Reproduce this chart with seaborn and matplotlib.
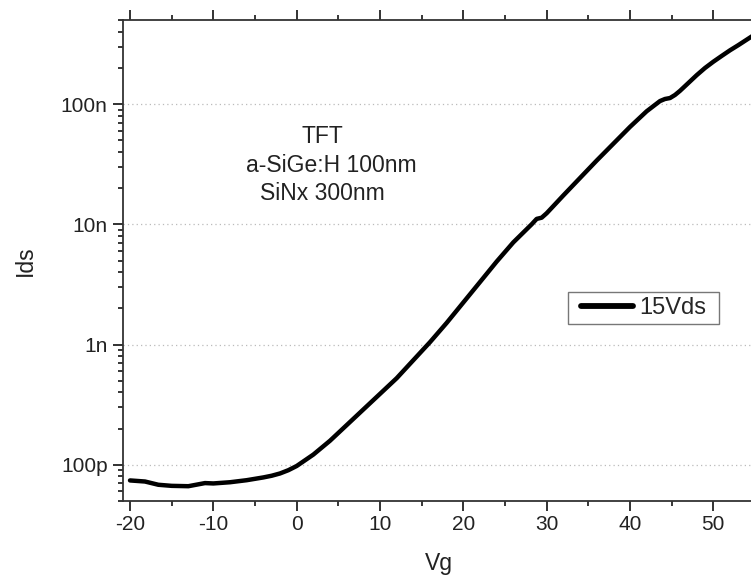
import matplotlib
matplotlib.use("Agg")
import matplotlib.pyplot as plt
import matplotlib.ticker as mticker
from matplotlib.path import Path
import seaborn as sns
import pandas as pd

vg = [-20, -18.2, -16.6, -15, -13, -12, -11, -10, -8, -6, -4, -3, -2, -1, 0,
      2, 4, 6, 8, 10, 12, 14, 16, 18, 20, 22, 24, 26, 28.2, 28.8, 29.4, 30,
      32, 34, 36, 38, 40, 42, 43.6, 44.2, 44.8, 45.4, 46, 47, 48, 49, 50, 51,
      52, 53, 54, 55]
ids = [7.413e-11, 7.261e-11, 6.823e-11, 6.683e-11, 6.637e-11, 6.839e-11,
       7.047e-11, 6.998e-11, 7.161e-11, 7.447e-11, 7.852e-11, 8.110e-11,
       8.472e-11, 9.016e-11, 9.772e-11,
       1.216e-10, 1.585e-10, 2.138e-10, 2.884e-10, 3.890e-10, 5.248e-10,
       7.413e-10, 1.047e-9, 1.514e-9, 2.239e-9, 3.311e-9, 4.898e-9, 7.079e-9,
       1.000e-8, 1.109e-8, 1.135e-8, 1.236e-8, 1.738e-8, 2.427e-8, 3.388e-8,
       4.677e-8, 6.457e-8, 8.710e-8, 1.059e-7, 1.102e-7, 1.122e-7, 1.190e-7,
       1.288e-7, 1.496e-7, 1.738e-7, 1.995e-7, 2.249e-7, 2.512e-7, 2.799e-7,
       3.090e-7, 3.428e-7, 3.802e-7]
series_label = "15Vds"
y_ticks = [1e-10, 1e-9, 1e-8, 1e-7]
y_tick_labels = ["100p", "1n", "10n", "100n"]
x_ticks = [-20, -10, 0, 10, 20, 30, 40, 50]
annotation_lines = ["TFT", "a-SiGe:H 100nm", "SiNx 300nm"]

sns.set_style("ticks")
plt.rcParams["font.family"] = ["Liberation Sans", "DejaVu Sans"]
plt.rcParams["axes.unicode_minus"] = False

W, H = 751, 576
fig = plt.figure(figsize=(W / 100, H / 100), dpi=100)
left, right, top, bottom = 123, 755, 20, 501
ax = fig.add_axes([left / W, (H - bottom) / H, (right - left) / W, (bottom - top) / H])

df = pd.DataFrame({"Vg": vg, "Ids": ids})
sns.lineplot(data=df, x="Vg", y="Ids", ax=ax, color="black", linewidth=3.2,
             label=series_label, sort=False)

ax.set_yscale("log")
ax.set_xlim(-20.84, 55)
ax.set_ylim(5.0e-11, 5.0e-7)

ax.set_yticks(y_ticks)
ax.set_yticklabels(y_tick_labels)
ax.yaxis.set_minor_locator(mticker.LogLocator(base=10, subs=range(2, 10), numticks=20))
ax.yaxis.set_minor_formatter(mticker.NullFormatter())
ax.set_xticks(x_ticks)
ax.xaxis.set_minor_locator(mticker.MultipleLocator(5))

ax.tick_params(axis="both", which="major", direction="out", length=7.5, width=1.3,
               labelsize=15, colors="#222222", top=True, labeltop=False)
ax.tick_params(axis="both", which="minor", direction="out", length=3.8, width=1.3,
               top=True)
ax.tick_params(axis="y", which="major", pad=3.5)
ax.tick_params(axis="x", which="major", pad=2.5)

for s in ["left", "bottom", "top", "right"]:
    ax.spines[s].set_linewidth(1.3)
    ax.spines[s].set_color("#333333")

ax.yaxis.grid(True, which="major", linestyle=(0, (1, 2.5)), color="#bbbbbb", linewidth=0.9)
ax.xaxis.grid(False)

ax.set_xlabel("Vg", fontsize=16.5, labelpad=13, color="#222222")
ax.set_ylabel("Ids", fontsize=16.5, labelpad=17, color="#222222")

text_pos = [(0.315, 0.744), (0.329, 0.684), (0.316, 0.626)]
for (tx, ty), line in zip(text_pos, annotation_lines):
    ax.text(tx, ty, line, transform=ax.transAxes, ha="center", va="baseline",
            fontsize=16.5, color="#222222")

PADX = 0.34


def wide_box(x0, y0, width, height, mutation_size):
    padx = PADX * mutation_size
    xs = [x0 - padx, x0 + width + padx, x0 + width + padx, x0 - padx, x0 - padx]
    ys = [y0, y0, y0 + height, y0 + height, y0]
    return Path(list(zip(xs, ys)), closed=True)


fs = 17
leg = ax.legend(loc="upper left",
                bbox_to_anchor=((568 + PADX * fs * 100 / 72) / W, 1 - 292 / H),
                bbox_transform=fig.transFigure, borderaxespad=0, fontsize=fs,
                frameon=True, fancybox=False, handlelength=2.2, handletextpad=0.25,
                borderpad=0.22, labelspacing=0.2)
frame = leg.get_frame()
frame.set_boxstyle(wide_box)
frame.set_edgecolor("#555555")
frame.set_linewidth(1.0)
for h in leg.get_lines():
    h.set_linewidth(4.2)

fig.savefig("out.png", dpi=100)
